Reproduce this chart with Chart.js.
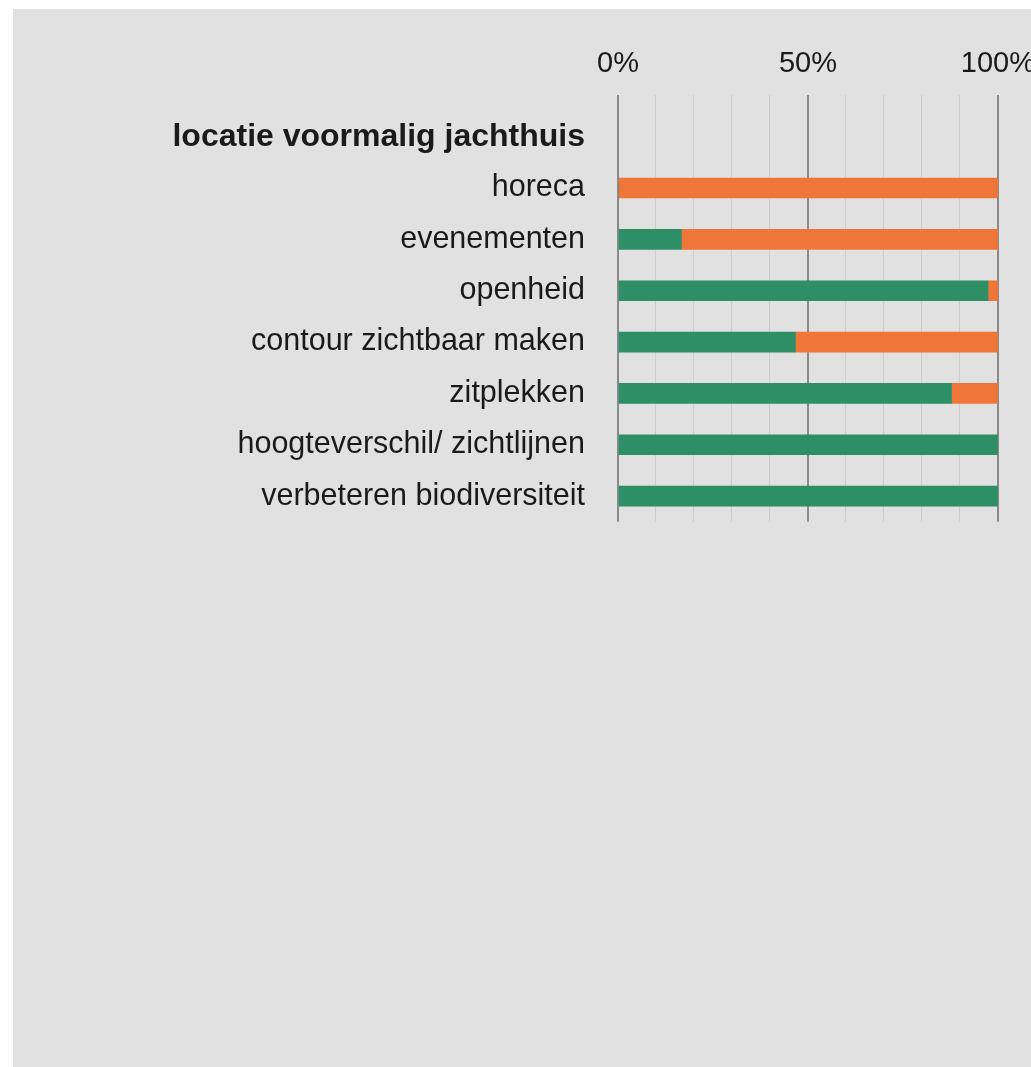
<!DOCTYPE html>
<html>
<head>
<meta charset="utf-8">
<script src="https://cdn.jsdelivr.net/npm/chart.js@4"></script>
<style>
    body { margin: 0; background: #ffffff; overflow: hidden; }
    #panel { position: absolute; left: 13px; top: 9px; width: 1018px; height: 1058px; background: #e1e1e1; overflow: hidden; }
    #chartBox { position: absolute; left: 0; top: 0; width: 1036px; height: 565px; }
</style>
</head>
<body>
<div id="panel">
    <div id="chartBox"><canvas id="surveyChart"></canvas></div>
</div>
<script>
// first row is the group heading, it has no bar
var categories = ["locatie voormalig jachthuis", "horeca", "evenementen", "openheid",
    "contour zichtbaar maken", "zitplekken", "hoogteverschil/ zichtlijnen", "verbeteren biodiversiteit"];
var greenValues = [null, 0, 16.7, 97.4, 46.7, 87.8, 100, 100];
var orangeValues = [null, 100, 83.3, 2.6, 53.3, 12.2, 0, 0];
var majorTicks = [0, 50, 100];
var majorTickLabels = ["0%", "50%", "100%"];

const GREEN = '#2e8e66';
const ORANGE = '#f07538';
const FONT = "'Liberation Sans', Arial, sans-serif";

var ctx = document.getElementById("surveyChart").getContext("2d");

var surveyChart = new Chart(ctx, {
    type: 'bar',
    data: {
        labels: categories,
        datasets: [{
            label: 'eens',
            data: greenValues,
            backgroundColor: GREEN,
            barThickness: 20
        }, {
            label: 'oneens',
            data: orangeValues,
            backgroundColor: ORANGE,
            barThickness: 20
        }]
    },
    options: {
        indexAxis: 'y',
        responsive: true,
        maintainAspectRatio: false,
        animation: false,
        layout: { padding: { left: 0, right: 33, top: 0, bottom: 0 } },
        scales: {
            x: {
                position: 'top',
                stacked: true,
                min: 0,
                max: 100,
                border: { display: false },
                grid: {
                    tickLength: 16,
                    color: function(c) {
                        return majorTicks.indexOf(c.tick.value) >= 0 ? '#8a8a8a' : '#cdcdcd';
                    },
                    lineWidth: function(c) {
                        return majorTicks.indexOf(c.tick.value) >= 0 ? 2 : 1;
                    }
                },
                ticks: {
                    stepSize: 10,
                    padding: 14,
                    autoSkip: false,
                    maxRotation: 0,
                    color: '#1a1a1a',
                    font: { family: FONT, size: 29 },
                    callback: function(value) {
                        var i = majorTicks.indexOf(value);
                        return i >= 0 ? majorTickLabels[i] : '';
                    }
                },
                afterFit: function(scale) {
                    scale.height = 102;
                }
            },
            y: {
                stacked: true,
                border: { display: false },
                grid: { display: false, drawTicks: false },
                ticks: {
                    padding: 33,
                    color: '#1a1a1a',
                    font: function(c) {
                        if (c.index === 0) {
                            return { family: FONT, size: 32, weight: 'bold' };
                        }
                        return { family: FONT, size: 30.5 };
                    }
                },
                afterFit: function(scale) {
                    scale.width = 605;
                }
            }
        },
        plugins: {
            legend: { display: false },
            tooltip: { enabled: false }
        }
    }
});
</script>
</body>
</html>
